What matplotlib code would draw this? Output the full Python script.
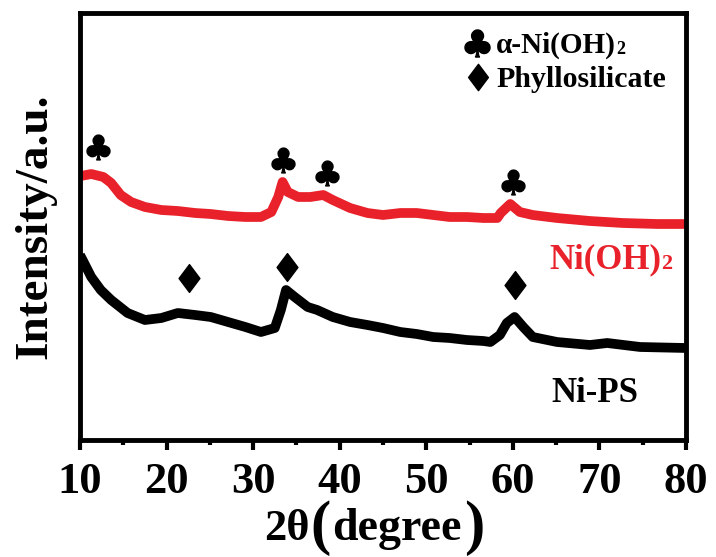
import numpy as np
import matplotlib
matplotlib.use('Agg')
import matplotlib.pyplot as plt
from matplotlib.path import Path
from matplotlib.textpath import TextPath
from matplotlib.font_manager import FontProperties

# ---------------- data ----------------
two_theta_nioh = [10.0, 10.1, 11.3, 12.7, 13.6, 14.7, 15.9, 17.5, 19.4, 21.3, 23.3, 25.1,
                  27.1, 29.1, 30.9, 32.1, 32.9, 33.4, 34.0, 35.2, 36.6, 38.1, 39.2,
                  41.2, 43.2, 45.0, 47.0, 48.9, 50.8, 52.7, 54.7, 56.6, 58.2, 58.6,
                  59.7, 60.8, 62.3, 65.1, 68.9, 72.7, 76.7, 80.0]
int_nioh = [262, 264, 266, 263, 257, 245, 238, 233, 230, 229, 227, 226,
            224, 223, 223, 228, 243, 258, 248, 243, 243, 245, 240,
            232, 227, 225, 227, 227, 225, 223, 223, 222, 222, 227,
            236, 228, 225, 222, 219, 217, 216, 216]

two_theta_nips = [10.0, 10.3, 11.3, 12.4, 13.6, 15.5, 17.5, 19.4, 21.3, 23.3, 25.1, 27.1,
                  29.1, 30.9, 32.5, 33.2, 33.8, 34.8, 36.3, 37.4, 39.2, 41.2, 43.2,
                  45.0, 47.0, 48.9, 50.8, 52.7, 54.7, 56.6, 57.4, 58.5, 59.3, 60.2,
                  61.2, 62.3, 65.1, 68.9, 70.9, 74.7, 80.0]
int_nips = [185, 180, 163, 150, 140, 127, 120, 122, 127, 125, 123, 118,
            113, 108, 112, 130, 150, 143, 133, 130, 123, 118, 115,
            112, 108, 106, 103, 102, 100, 99, 98, 105, 117, 123,
            113, 103, 98, 95, 97, 93, 92]

club_x = [12.1, 33.45, 38.5, 60.0]
club_y = [293, 280, 267, 258]
diamond_x = [22.6, 33.9, 60.25]
diamond_y = [162, 173, 155]

x_ticks = [10, 20, 30, 40, 50, 60, 70, 80]
x_minor_ticks = [15, 25, 35, 45, 55, 65, 75]

# ---------------- style ----------------
plt.rcParams['font.family'] = ['Liberation Serif', 'DejaVu Sans']
plt.rcParams['font.weight'] = 'bold'

RED = '#e8212a'
W, H = 716, 557
fig = plt.figure(figsize=(W / 100, H / 100), dpi=100)
ax = fig.add_axes([80 / W, 1 - 440 / H, 606 / W, 427 / H])
renderer = fig.canvas.get_renderer()


def centered_path(path):
    v = path.vertices.copy()
    ext = path.get_extents()
    v[:, 0] -= (ext.x0 + ext.x1) / 2
    v[:, 1] -= (ext.y0 + ext.y1) / 2
    return Path(v, path.codes)


def seq_text(x_px, base_px, pieces, color='black'):
    """Draw text pieces one after another on a common baseline (pixel coords)."""
    x = x_px
    for s, size, dy, gap, weight in pieces:
        t = fig.text(x / W, 1 - (base_px + dy) / H, s, fontsize=size, fontweight=weight,
                     color=color, ha='left', va='baseline')
        bb = t.get_window_extent(renderer)
        x = bb.x1 + gap
    return x


club_marker = centered_path(TextPath((0, 0), '♣', size=10,
                                     prop=FontProperties(family='DejaVu Sans')))
diamond_marker = Path([(0, 1), (0.75, 0), (0, -1), (-0.75, 0), (0, 1)],
                      [Path.MOVETO, Path.LINETO, Path.LINETO, Path.LINETO, Path.CLOSEPOLY])

ax.plot(two_theta_nioh, int_nioh, color=RED, lw=7, solid_joinstyle='round',
        solid_capstyle='butt')
ax.plot(two_theta_nips, int_nips, color='black', lw=7, solid_joinstyle='round',
        solid_capstyle='butt')

ax.plot(club_x, club_y, ls='none', marker=club_marker, ms=22, color='black')
ax.plot(diamond_x, diamond_y, ls='none', marker=diamond_marker, ms=20, color='black')

# legend (manual)
ax.plot([(477 - 80) / 606], [(440 - 43) / 427], transform=ax.transAxes, ls='none',
        marker=club_marker, ms=24, color='black', clip_on=False)
ax.plot([(478 - 80) / 606], [(440 - 77) / 427], transform=ax.transAxes, ls='none',
        marker=diamond_marker, ms=19, color='black', clip_on=False)
seq_text(496, 53, [('α-Ni(OH)', 21, 0, 0, 'bold'), ('2', 13, 1, 0, 'bold')])
seq_text(496, 87, [('Phyllosilicate', 21.5, 0, 0, 'bold')])

# series labels
seq_text(549, 268, [('Ni(OH)', 25, 0, 0, 'bold'), ('2', 16, 1, 0, 'bold')], color=RED)
seq_text(551, 402, [('Ni-PS', 25, 0, 0, 'bold')])

ax.set_xlim(10, 80)
ax.set_ylim(0, 427)
ax.set_xticks(x_ticks)
ax.set_xticks(x_minor_ticks, minor=True)
ax.set_yticks([])
for s in ax.spines.values():
    s.set_linewidth(3.5)
ax.tick_params(axis='x', which='major', direction='out', length=7, width=3,
               labelsize=32, pad=9)
ax.tick_params(axis='x', which='minor', direction='out', length=3.5, width=3)
for lab in ax.get_xticklabels():
    lab.set_fontweight('bold')

# axis labels
fig.text(35 / W, 1 - 226 / H, 'Intensity/a.u.', rotation=90, fontsize=34,
         fontweight='bold', ha='center', va='center')
seq_text(264, 540, [('2θ', 32, 0, 1, 'bold'), ('(', 44, 3, 1, 'bold'),
                    ('degree', 33, 0, 3, 'bold'), (')', 44, 3, 0, 'bold')])

fig.savefig('out.png', dpi=100)
